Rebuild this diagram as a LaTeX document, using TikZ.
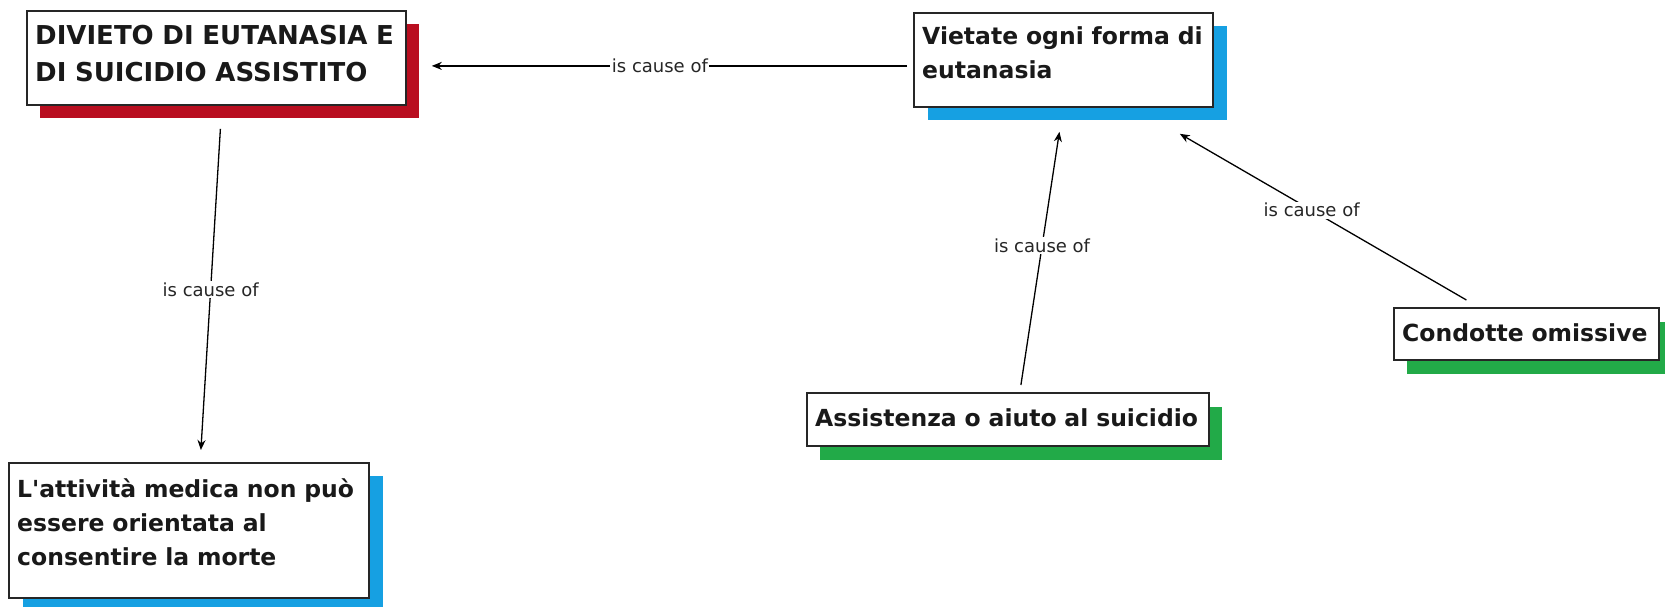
\documentclass[tikz,border=0pt]{standalone}
\usepackage{fontspec}
\setmainfont{DejaVu Sans}[Ligatures=TeXOff]
\usetikzlibrary{arrows.meta,shadows,calc}
\definecolor{shred}{RGB}{185,14,32}
\definecolor{shblue}{RGB}{22,160,226}
\definecolor{shgreen}{RGB}{34,170,72}
\begin{document}
\begin{tikzpicture}[x=1pt,y=-1pt,
  box/.style={draw=black!85, line width=1.8pt, fill=white, anchor=north west, inner sep=0pt},
  redsh/.style={drop shadow={shadow xshift=13pt, shadow yshift=-13pt, fill=shred, opacity=1}},
  bluesh/.style={drop shadow={shadow xshift=14pt, shadow yshift=-13pt, fill=shblue, opacity=1}},
  greensh/.style={drop shadow={shadow xshift=13pt, shadow yshift=-14pt, fill=shgreen, opacity=1}},
  boxtext/.style={anchor=base west, inner sep=0pt, align=left, text width=500, font=\bfseries\fontsize{23.5}{34}\selectfont, text=black!90},
  captext/.style={boxtext, font=\bfseries\fontsize{26}{37}\selectfont},
  conn/.style={draw=black, line width=1.3pt, -{Stealth[length=10pt,width=8pt]}},
  lab/.style={fill=white, inner sep=1.5pt, font=\fontsize{18}{20}\selectfont, text=black!85}]
\useasboundingbox (0,0) rectangle (1665,607);
\fill[white] (0,0) rectangle (1665,607);
% boxes
\node[box, redsh, minimum width=379, minimum height=94] (A) at (26,10) {};
\node[box, bluesh, minimum width=299, minimum height=94] (B) at (913,12) {};
\node[box, bluesh, minimum width=360, minimum height=135] (C) at (8,462) {};
\node[box, greensh, minimum width=402, minimum height=53] (D) at (806,392) {};
\node[box, greensh, minimum width=265, minimum height=52] (E) at (1393,307) {};
% texts
\node[captext] (At) at ($(A.north west)+(9,35)$) {DIVIETO DI EUTANASIA E\\DI SUICIDIO ASSISTITO};
\node[boxtext] (Bt) at ($(B.north west)+(9,33)$) {Vietate ogni forma di\\eutanasia};
\node[boxtext] (Ct) at ($(C.north west)+(9,35)$) {L'attività medica non può\\essere orientata al\\consentire la morte};
\node[boxtext] (Dt) at ($(D.north west)+(9,34)$) {Assistenza o aiuto al suicidio};
\node[boxtext] (Et) at ($(E.north west)+(9,34)$) {Condotte omissive};
% connector end points
\coordinate (b1) at ($(B.west)+(-6,6)$);
\coordinate (a1) at ($(A.east)+(25,8)$);
\coordinate (a2) at ($(A.south)+(4,23)$);
\coordinate (c2) at ($(C.north)+(12,-12)$);
\coordinate (d3) at ($(D.north)+(13,-7)$);
\coordinate (b3) at ($(B.south)+(-4,24)$);
\coordinate (e4) at ($(E.north)+(-60,-7)$);
\coordinate (b4) at ($(B.south east)+(-34,26)$);
% connectors
\draw[conn] (b1) -- node[lab, pos=0.52] (L1) {is cause of} (a1);
\draw[conn] (a2) -- node[lab, pos=0.5] (L2) {is cause of} (c2);
\draw[conn] (d3) -- node[lab, pos=0.55] (L3) {is cause of} (b3);
\draw[conn] (e4) -- node[lab, pos=0.54] (L4) {is cause of} (b4);
\end{tikzpicture}
\end{document}
